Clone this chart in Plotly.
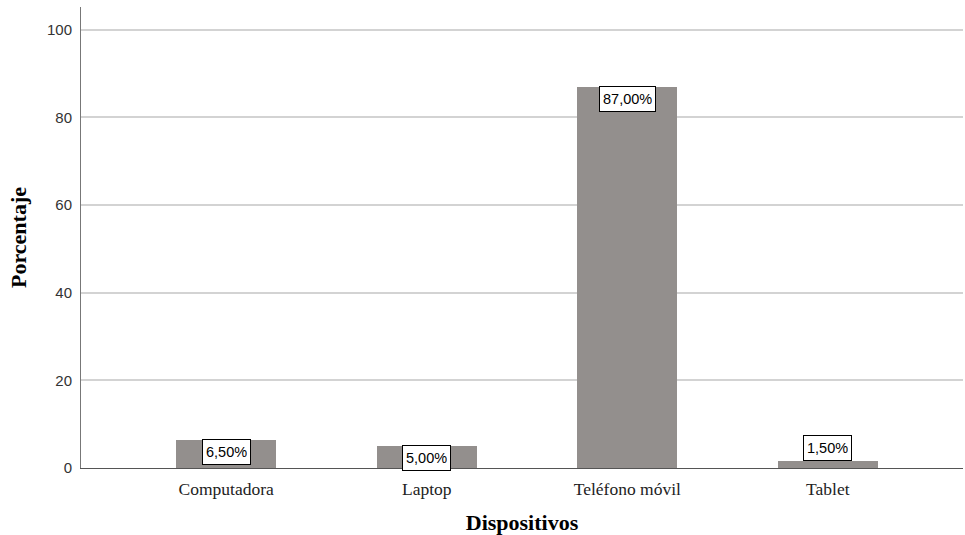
import plotly.graph_objects as go

categories = ["Computadora", "Laptop", "Teléfono móvil", "Tablet"]
values = [6.5, 5.0, 87.0, 1.5]
labels = ["6,50%", "5,00%", "87,00%", "1,50%"]
y_ticks = [0, 20, 40, 60, 80, 100]

bar_color = "#938f8d"

fig = go.Figure()
fig.add_trace(go.Bar(
    x=list(range(len(categories))),
    y=values,
    width=0.5,
    marker=dict(color=bar_color, line=dict(width=0)),
    hoverinfo="skip",
))

for i, (v, lab) in enumerate(zip(values, labels)):
    small = v < 3
    fig.add_annotation(
        x=i, y=v, xref="x", yref="y",
        text=lab, showarrow=False,
        yanchor="bottom" if small else "top",
        yshift=0 if small else 1,
        height=18,
        font=dict(family="Liberation Sans, Arial, sans-serif", size=14.5, color="#000"),
        bgcolor="white", bordercolor="#000", borderwidth=1, borderpad=3,
    )

fig.update_layout(
    width=965, height=535,
    margin=dict(l=81, r=2, t=7, b=67),
    paper_bgcolor="white", plot_bgcolor="white",
    showlegend=False,
    bargap=0,
    xaxis=dict(
        range=[-0.724, 3.674],
        tickmode="array",
        tickvals=list(range(len(categories))),
        ticktext=categories,
        tickfont=dict(family="Liberation Serif, Times New Roman, serif", size=17.5, color="#222"),
        showgrid=False, zeroline=False,
        showline=True, linecolor="#555", linewidth=1,
        ticks="", ticklen=0, ticklabelstandoff=5,
        title=dict(text="<b>Dispositivos</b>", standoff=19,
                   font=dict(family="Liberation Serif, Times New Roman, serif", size=22, color="#000")),
    ),
    yaxis=dict(
        range=[0, 105.2],
        tickmode="array",
        tickvals=y_ticks,
        ticktext=[str(t) for t in y_ticks],
        tickfont=dict(family="Liberation Sans, Arial, sans-serif", size=15, color="#333"),
        showgrid=True, gridcolor="#d3d3d3", gridwidth=1.5,
        zeroline=False,
        showline=True, linecolor="#777", linewidth=1,
        ticks="", ticklen=0, ticklabelstandoff=5,
        title=dict(text="<b>Porcentaje</b>", standoff=14,
                   font=dict(family="Liberation Serif, Times New Roman, serif", size=22, color="#000")),
    ),
)

fig.write_html("out.html", config={"displayModeBar": False},
               post_script="document.body.style.margin='0';")
